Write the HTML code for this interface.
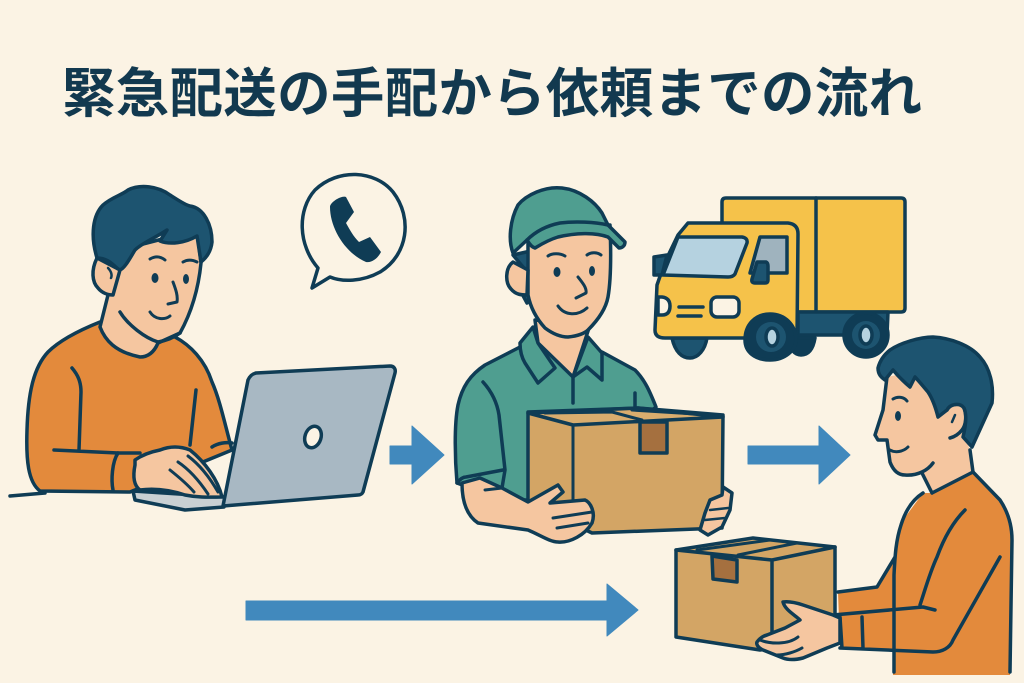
<!DOCTYPE html>
<html lang="ja"><head><meta charset="utf-8"><style>
html,body{margin:0;padding:0;background:#fbf3e4;width:1024px;height:683px;overflow:hidden}
svg{display:block}
text{font-family:"Liberation Sans","Noto Sans CJK JP",sans-serif;font-weight:700}
</style></head><body>
<svg width="1024" height="683" viewBox="0 0 1024 683" xmlns="http://www.w3.org/2000/svg">
<rect width="1024" height="683" fill="#fbf3e4"/>
<text x="62" y="112" font-size="53.5" fill="#12394f" textLength="860" lengthAdjust="spacing">緊急配送の手配から依頼までの流れ</text>
<g stroke="#0f3c55" stroke-width="3.5" stroke-linejoin="round" stroke-linecap="round">
<!-- person 1 -->
<path d="M10 496L45 493" fill="none"/>
<path d="M100 322C80 330 60 340 48 352C33 368 28 395 27 430C26 460 28 482 40 491L130 492L232 450C225 425 220 400 212 382C205 360 190 345 175 337Z" fill="#e38a3c"/>
<path d="M72 368C78 375 81 382 81 392L79 450M54 450L118 453H140M196 390L190 445M212 447C218 443 226 442 232 443" fill="none"/>
<path d="M118 453C112 462 111 480 113 490" fill="none"/>
<path d="M108 295L100 327C105 340 115 352 140 357C150 357 155 350 158 343L180 333C190 315 198 293 201 263L197 230L120 250Z" fill="#f5c6a0"/>
<path d="M97 258C91 270 92 282 98 288C102 293 108 295 113 295L120 270Z" fill="#f5c6a0"/>
<path d="M108 268C112 272 112 276 111 278" fill="none" stroke-width="2.5"/>
<path d="M120 312C128 325 145 338 158 342C170 340 176 336 180 333" fill="none"/>
<path d="M97 258C90 235 93 215 103 205C112 197 122 195 128 190C140 184 158 186 170 195C178 200 185 205 190 206C204 208 212 225 212 242C211 252 206 258 201 262L197 236C185 243 170 245 160 241L167 230C155 238 142 243 135 250C130 258 125 268 120 270C115 268 110 258 97 258Z" fill="#1d5470"/>
<ellipse cx="155" cy="278" rx="3.5" ry="5" fill="#0f3c55" stroke="none"/><ellipse cx="186" cy="279" rx="3" ry="5" fill="#0f3c55" stroke="none"/>
<path d="M150 259C155 256 160 256 165 260M183 262C188 259 193 260 197 262M173 282C176 290 178 296 177 302L168 304M150 312C155 320 165 320 170 316" fill="none" stroke-width="3"/>
<!-- laptop base -->
<path d="M133 491L225 497L224 507L185 510L135 500Z" fill="#c9d0d3"/>
<path d="M135 465C133 475 133 485 140 490C155 488 170 490 185 495C200 498 212 497 222 497C218 480 205 462 190 450C180 446 170 446 160 450C150 452 142 455 135 460Z" fill="#f5c6a0"/>
<path d="M188 456C200 465 210 478 218 492M178 462C190 470 200 482 208 494M170 470C180 478 188 485 194 492" fill="none" stroke-width="3"/>
<path d="M256 373L390 366C394 366 396 369 395 373L363 492C362 494 361 495 358 495L223 506L248 380C250 376 252 374 256 373Z" fill="#a8b8c3"/>
<ellipse cx="313" cy="437" rx="8" ry="11" transform="rotate(18 313 437)" fill="#fbf3e4"/>
<!-- bubble -->
<path d="M318 268C298 245 297 210 315 190C338 168 375 170 393 192C413 218 408 255 380 272C362 282 342 282 330 277L312 288Z" fill="#fbf3e4"/>
<path d="M330 207C330 202 342 195 346 197L354 212L346 223C350 230 353 236 359 242L370 237L381 252C378 258 372 263 366 262C345 253 330 228 330 207Z" fill="#0f3c55" stroke="none"/>
</g>
<g fill="#4189bd" stroke="#4189bd" stroke-width="1" stroke-linejoin="round">
<path d="M390 446H412V426L444 455L412 484V464H390Z"/>
<path d="M748 446H819V426L850 455L819 484V464H748Z"/>
<path d="M246 601H607V584L638 610L607 636V620H246Z"/>
</g>
<g stroke="#0f3c55" stroke-width="3.5" stroke-linejoin="round" stroke-linecap="round">
<!-- person 2 -->
<path d="M520 347L485 365C470 375 462 387 458 405C454 425 455 460 457 483L503 500H540L640 420L656 407C650 392 645 380 635 370L602 352Z" fill="#4f9e90"/>
<path d="M483 382C492 392 497 402 499 415L505 470L502 488M635 393V407" fill="none"/>
<path d="M513 255L528 273L535 250Z" fill="#1d5470"/>
<path d="M520 290L527 303L530 296Z" fill="#1d5470"/>
<!-- neck -->
<path d="M535 320L538 343L573 377L590 325Z" fill="#f5c6a0"/>
<!-- collar -->
<path d="M533 327L520 343C520 352 522 358 525 363L538 383L555 368L538 343Z" fill="#4f9e90"/>
<path d="M588 337L602 353V380L587 367L573 377Z" fill="#4f9e90"/>
<path d="M573 377V403" fill="none"/>
<!-- face -->
<path d="M528 295C530 305 534 316 545 328C553 334 560 337 568 337C578 336 585 333 588 330C598 320 606 308 608 297C611 280 611 250 610 225H528Z" fill="#f5c6a0"/>
<path d="M513 262C505 268 505 283 511 289C516 295 522 295 527 295L528 270Z" fill="#f5c6a0"/>
<path d="M513 253C508 240 510 220 518 205C526 195 545 186 562 188C580 190 595 202 602 213L608 225L625 242C625 246 622 248 619 248L608 237C595 232 575 233 558 237C548 240 540 245 535 248C531 247 529 243 527 240Z" fill="#4f9e90"/>
<path d="M527 240C535 232 545 226 560 223C575 221 595 222 608 225" fill="none"/>
<ellipse cx="557" cy="272" rx="3.5" ry="5" fill="#0f3c55" stroke="none"/><ellipse cx="592" cy="271" rx="3" ry="5" fill="#0f3c55" stroke="none"/>
<path d="M548 256C552 253 560 253 565 256M587 255C591 252 597 252 601 255M578 277C582 282 587 288 586 293L576 298M558 306C565 316 578 316 587 308" fill="none" stroke-width="3"/>
<!-- box 1 -->
<path d="M528 412L638 408L723 415L722 528L592 533L528 502Z" fill="#d3a565"/>
<path d="M528 413L638 408L723 417L573 425Z" fill="#d9ad6e"/>
<path d="M545 413L612 412L642 420M632 410L712 415M573 425V503" fill="none" stroke-width="3"/>
<path d="M640 422H667V453H640Z" fill="#a5703f"/>
<path d="M462 483C462 500 466 515 478 523L528 530C540 535 550 542 558 542C570 543 585 535 592 523C596 512 590 502 585 500L550 503L563 492L558 485L528 502L502 488L480 478Z" fill="#f5c6a0"/>
<path d="M457 483C460 479 463 477 466 477L503 470" fill="none"/>
<path d="M485 490L502 488M553 518L592 512M557 528L588 523" fill="none" stroke-width="3"/>
<path d="M723 487L732 493L730 510L722 527L708 535L700 530L705 513L710 500L722 495Z" fill="#f5c6a0"/>
<path d="M710 510L728 508M705 520L725 518" fill="none" stroke-width="2.5"/>
<!-- truck -->
<path d="M722 202Q722 198 726 198H901Q905 198 905 202V308Q905 312 901 312H798L722 300Z" fill="#f5c24a"/>
<path d="M816 198V310" fill="none"/>
<path d="M798 312H888L887 335H798Z" fill="#1d5470"/>
<path d="M672 338C675 352 682 358 690 358C698 358 705 350 707 338Z" fill="#1d5470"/>
<path d="M787 338C790 350 795 355 801 355C808 355 813 350 815 338Z" fill="#0f3c55"/>
<path d="M678 235L688 223H788Q798 224 798 234L797 338H665Q655 338 655 330L657 285L665 262Z" fill="#f5c24a"/>
<path d="M654 257L667 255L662 275H654Z" fill="#1d5470"/>
<path d="M678 237H742Q748 238 747 243L735 274Q733 277 728 277L663 275Z" fill="#b5d2e0"/>
<path d="M760 237H787V273H750Z" fill="#9fb3be"/>
<path d="M757 262H766Q768 263 768 266V280Q768 283 765 283H755Q751 283 752 279Z" fill="#1d5470"/>
<path d="M658 297H662Q670 298 670 306Q670 315 662 315H658Z" fill="#fbf3e4"/>
<path d="M679 307H703M678 316H701" fill="none"/>
<rect x="711" y="297" width="28" height="20" rx="6" fill="#fbf3e4"/>
<path d="M745 340C745 325 755 314 770 314C785 314 796 325 796 340C796 350 785 360 770 360C755 360 745 352 745 340Z" fill="#0f3c55"/>
<circle cx="771" cy="337" r="15" fill="#1d5470" stroke="none"/>
<ellipse cx="772" cy="337" rx="6" ry="9" fill="#b5d2e0"/>
<circle cx="866" cy="335" r="22" fill="#0f3c55"/>
<circle cx="866" cy="335" r="14" fill="#1d5470" stroke="none"/>
<ellipse cx="866" cy="335" rx="6" ry="9" fill="#b5d2e0"/>
<!-- person 3 -->
<path d="M838 592L877 587L895 557L903 520L923 493H932L973 472L1000 500C1008 512 1012 525 1012 540L1010 675H893V650L840 648Z" fill="#e38a3c" stroke="none"/>
<path d="M923 493C912 500 905 512 901 525C896 540 895 555 894 575V672M973 472L1000 500C1008 512 1012 525 1012 540L1010 672M838 592L877 587L895 557" fill="none"/>
<path d="M840 648L933 652C942 652 950 648 953 640L1000 557M833 615L923 607L935 610M920 605C925 590 930 572 937 557C945 535 955 520 965 510M840 617L842 648M862 617L863 648" fill="none"/>
<path d="M887 377L883 410L875 435L878 440H887L890 462C893 470 898 475 905 475C920 476 925 470 933 463L923 473L932 493L973 472L970 450L950 400L920 370Z" fill="#f5c6a0" stroke="none"/>
<path d="M887 377L883 410L875 435L878 440H887L890 462C893 470 898 475 905 475C918 476 928 470 933 463M922 473L932 493L973 472L970 450" fill="none"/>
<path d="M947 410C950 404 960 402 964 408C967 415 966 425 962 430C958 435 954 437 950 438" fill="#f5c6a0"/>
<path d="M955 415L952 422" fill="none" stroke-width="2.5"/>
<path d="M878 368C880 360 885 354 890 350C900 343 920 337 933 337C950 338 970 345 980 357C990 368 994 385 992 403L972 447L963 437C966 425 967 415 964 408C960 402 950 404 947 410L938 417C935 405 932 398 928 392C922 385 918 380 915 377L910 387C904 382 898 376 893 370L885 380C882 378 878 375 878 368Z" fill="#1d5470"/>
<ellipse cx="898" cy="416" rx="3" ry="5" fill="#0f3c55" stroke="none"/>
<path d="M893 399C898 396 904 397 907 401M890 450C895 453 903 452 908 447" fill="none" stroke-width="3"/>
<!-- box 2 -->
<path d="M676 550L753 538L835 547V640L760 650L676 637Z" fill="#d3a565"/>
<path d="M676 550L772 560L835 547M772 560V632" fill="none"/>
<path d="M697 550L770 540M738 555L797 543" fill="none" stroke-width="3"/>
<path d="M712 556L737 560V582L713 579Z" fill="#a5703f"/>
<path d="M783 602C790 601 797 603 803 605L833 615L840 618V643L827 648L803 658C795 660 788 660 783 658L763 650C758 648 756 644 757 642C760 638 763 636 767 635L785 628L800 620C795 615 785 610 783 602Z" fill="#f5c6a0"/>
<path d="M760 640C770 644 788 645 798 637M777 655C785 655 795 652 802 648" fill="none" stroke-width="3"/>
</g>
</svg>
</body></html>
